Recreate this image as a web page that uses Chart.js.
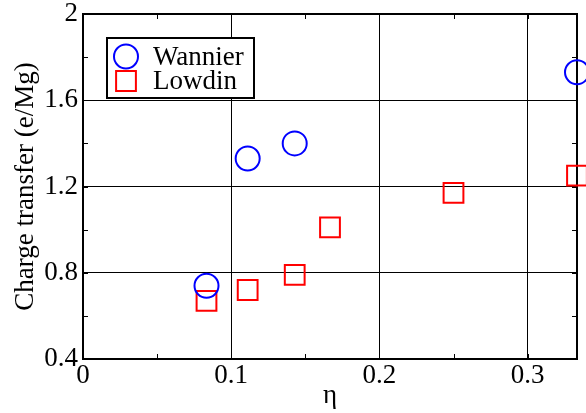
<!DOCTYPE html>
<html>
<head>
<meta charset="utf-8">
<script src="https://cdn.jsdelivr.net/npm/chart.js@4.4.0/dist/chart.umd.min.js"></script>
<style>
  html, body { margin: 0; padding: 0; background: #fff; }
  #wrap { width: 586px; height: 413px; }
</style>
</head>
<body>
<div id="wrap"><canvas id="grafico" width="586" height="413"></canvas></div>
<script>
// dados
const etaWannier = [1 / 12, 1 / 9, 1 / 7, 1 / 3];
const cargaWannier = [0.74, 1.33, 1.40, 1.73];
const etaLowdin = [1 / 12, 1 / 9, 1 / 7, 1 / 6, 1 / 4, 1 / 3];
const cargaLowdin = [0.67, 0.72, 0.79, 1.01, 1.17, 1.25];
const rotulosX = ['0', '0.1', '0.2', '0.3'];
const rotulosY = ['0.4', '0.8', '1.2', '1.6', '2'];

const fonte = "'Liberation Serif', 'Times New Roman', serif";

const acharRotulo = (lista, v) => {
    const r = lista.find(s => Math.abs(Number(s) - v) < 1e-6);
    return r === undefined ? '' : r;
};

const corGrade = lista => ctx => (ctx.tick && acharRotulo(lista, ctx.tick.value) !== '') ? '#000' : 'rgba(0,0,0,0)';

// ticks para dentro e moldura
const molduraPlugin = {
    id: 'moldura',
    beforeDatasetsDraw(chart) {
        const { ctx, chartArea: a, scales: { x, y } } = chart;
        ctx.save();
        ctx.strokeStyle = '#000';
        ctx.lineWidth = 1;
        ctx.beginPath();
        x.ticks.forEach(t => {
            const px = Math.round(x.getPixelForValue(t.value)) + 0.5;
            ctx.moveTo(px, a.bottom); ctx.lineTo(px, a.bottom - 5);
            ctx.moveTo(px, a.top); ctx.lineTo(px, a.top + 5);
        });
        y.ticks.forEach(t => {
            const py = Math.round(y.getPixelForValue(t.value)) + 0.5;
            ctx.moveTo(a.left, py); ctx.lineTo(a.left + 5, py);
            ctx.moveTo(a.right, py); ctx.lineTo(a.right - 5, py);
        });
        ctx.stroke();
        ctx.lineWidth = 2;
        ctx.strokeRect(a.left, a.top, a.right - a.left, a.bottom - a.top);
        ctx.restore();
    }
};

// legenda dentro do grafico
const legendaPlugin = {
    id: 'legendaCaixa',
    afterDatasetsDraw(chart) {
        const ctx = chart.ctx;
        ctx.save();
        ctx.fillStyle = '#fff';
        ctx.fillRect(107, 38, 147, 60);
        ctx.strokeStyle = '#000';
        ctx.lineWidth = 2;
        ctx.strokeRect(107, 38, 147, 60);
        chart.data.datasets.forEach((ds, i) => {
            const yc = 56.5 + i * 24.5;
            ctx.strokeStyle = ds.borderColor;
            ctx.fillStyle = 'rgba(0,0,0,0)';
            ctx.lineWidth = ds.borderWidth;
            Chart.helpers.drawPoint(ctx, {
                pointStyle: ds.pointStyle,
                radius: ds.pointRadius,
                borderWidth: ds.borderWidth,
                rotation: 0
            }, 126, yc);
            ctx.fillStyle = '#000';
            ctx.font = '27px ' + fonte;
            ctx.textAlign = 'left';
            ctx.textBaseline = 'middle';
            ctx.fillText(ds.label, 153, yc + 1);
        });
        ctx.restore();
    }
};

new Chart(document.getElementById('grafico'), {
    type: 'scatter',
    data: {
        datasets: [{
            label: 'Wannier',
            data: etaWannier.map((e, i) => ({ x: e, y: cargaWannier[i] })),
            pointStyle: 'circle',
            pointRadius: 12,
            borderColor: '#0000ff',
            backgroundColor: 'rgba(0,0,0,0)',
            borderWidth: 2,
            clip: false
        }, {
            label: 'Lowdin',
            data: etaLowdin.map((e, i) => ({ x: e, y: cargaLowdin[i] })),
            pointStyle: 'rect',
            pointRadius: 14,
            borderColor: '#ff0000',
            backgroundColor: 'rgba(0,0,0,0)',
            borderWidth: 2,
            clip: false
        }]
    },
    options: {
        responsive: false,
        animation: false,
        devicePixelRatio: 1,
        layout: { autoPadding: false, padding: { top: 14, right: 9, left: 0, bottom: 0 } },
        plugins: {
            legend: { display: false },
            tooltip: { enabled: false }
        },
        scales: {
            x: {
                type: 'linear',
                min: 0,
                max: 1 / 3,
                border: { display: false },
                grid: { color: corGrade(rotulosX), lineWidth: 1, drawTicks: false },
                ticks: {
                    stepSize: 0.05,
                    includeBounds: false,
                    autoSkip: false,
                    maxRotation: 0,
                    padding: 1,
                    color: '#000',
                    font: { family: fonte, size: 27 },
                    callback: v => acharRotulo(rotulosX, v)
                },
                title: {
                    display: true,
                    text: 'η',
                    color: '#000',
                    font: { family: fonte, size: 27 },
                    padding: { top: 0, bottom: 1 }
                },
                afterFit: s => { s.height = 54; s.paddingLeft = 0; s.paddingRight = 0; }
            },
            y: {
                type: 'linear',
                min: 0.4,
                max: 2,
                border: { display: false },
                grid: { color: corGrade(rotulosY), lineWidth: 1, drawTicks: false },
                ticks: {
                    stepSize: 0.2,
                    autoSkip: false,
                    padding: 5,
                    color: '#000',
                    font: { family: fonte, size: 27 },
                    callback: v => acharRotulo(rotulosY, v)
                },
                title: {
                    display: true,
                    text: 'Charge transfer (e/Mg)',
                    color: '#000',
                    font: { family: fonte, size: 27 },
                    padding: { top: 10, bottom: 0 }
                },
                afterFit: s => { s.width = 83; s.paddingTop = 0; s.paddingBottom = 0; }
            }
        }
    },
    plugins: [molduraPlugin, legendaPlugin]
});
</script>
</body>
</html>
